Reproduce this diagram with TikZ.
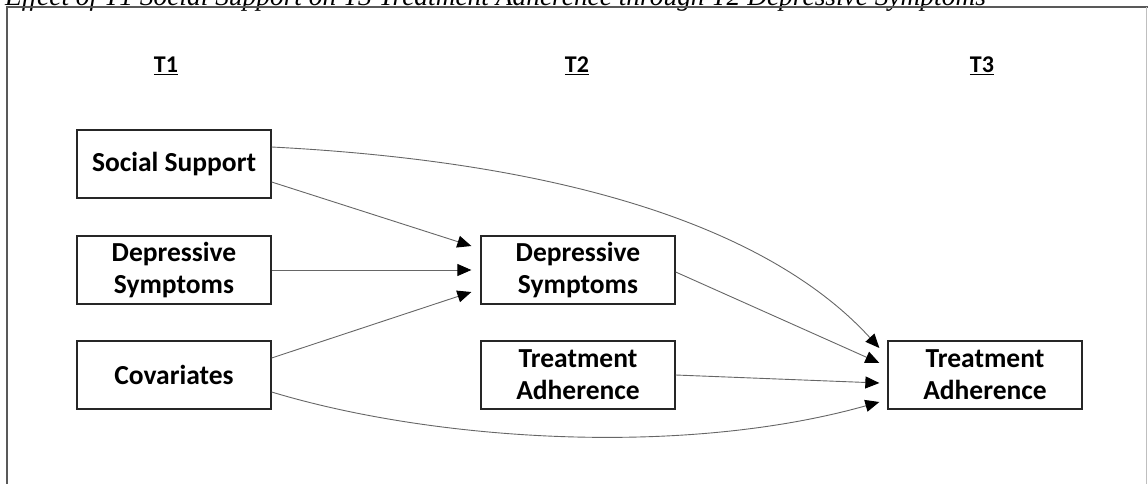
\documentclass[tikz,border=0pt]{standalone}
\usepackage{fontspec}
\setmainfont{Carlito}
\newfontfamily\titlefont{Liberation Serif}
\usetikzlibrary{arrows.meta}
\begin{document}
\begin{tikzpicture}[x=1pt,y=-1pt,
  varbox/.style={draw=black!85,line width=1.3pt,minimum width=194pt,minimum height=68pt,
    align=center,inner sep=0pt,font=\fontsize{27.5}{32}\selectfont\bfseries},
  heading/.style={font=\fontsize{24}{28}\selectfont\bfseries,inner sep=0pt},
  path/.style={draw=black!60,line width=0.9pt,-{Triangle[length=14pt,width=12pt,fill=black,color=black]}},
  frameline/.style={line width=1.3pt}]
\useasboundingbox (0,0) rectangle (1148,484);
% title (clipped at top)
\node[anchor=base west,inner sep=0pt,font=\titlefont\itshape\fontsize{27.4}{30}\selectfont] (title) at (5,6)
  {Effect of T1 Social Support on T3 Treatment Adherence through T2 Depressive Symptoms};
% frame
\coordinate (ftl) at (7,7);
\coordinate (ftr) at (1148,7);
\coordinate (fbl) at (7,484);
\coordinate (frt) at (1146,7);
\coordinate (frb) at (1146,484);
\draw[frameline,draw=black!65] (fbl) -- (ftl) -- (ftr);
\draw[line width=1pt,draw=black!25] (frt) -- (frb);
% headings
\node[heading] (h1) at (166,66) {\underline{T1}};
\node[heading] (h2) at (577,66) {\underline{T2}};
\node[heading] (h3) at (982,66) {\underline{T3}};
% boxes
\node[varbox] (ss) at (174,164) {Social Support};
\node[varbox] (d1) at (174,270) {Depressive\\Symptoms};
\node[varbox] (cov) at (174,375) {Covariates};
\node[varbox] (d2) at (578,270) {Depressive\\Symptoms};
\node[varbox] (ta2) at (578,375) {Treatment\\Adherence};
\node[varbox] (ta3) at (985,375) {Treatment\\Adherence};
% endpoints
\coordinate (e1) at ([xshift=-9pt,yshift=24pt]d2.west);
\coordinate (e2) at ([xshift=-9pt]d2.west);
\coordinate (e3) at ([xshift=-9pt,yshift=-22pt]d2.west);
\coordinate (f1) at ([xshift=-8pt,yshift=27pt]ta3.west);
\coordinate (f2) at ([xshift=-8pt,yshift=12pt]ta3.west);
\coordinate (f3) at ([xshift=-8pt,yshift=-8pt]ta3.west);
\coordinate (f4) at ([xshift=-8pt,yshift=-27pt]ta3.west);
% connectors
\draw[path] ([yshift=-18pt]ss.east) -- (e1);
\draw[path] (d1.east) -- (e2);
\draw[path] ([yshift=17pt]cov.east) -- (e3);
\draw[path] ([yshift=17pt]ss.east) .. controls (620,165) and (790,250) .. (f1);
\draw[path] ([yshift=-2pt]d2.east) -- (f2);
\draw[path] ([yshift=0pt]ta2.east) -- (f3);
\draw[path] ([yshift=-17pt]cov.east) .. controls (430,440) and (680,458) .. (f4);
\end{tikzpicture}
\end{document}
